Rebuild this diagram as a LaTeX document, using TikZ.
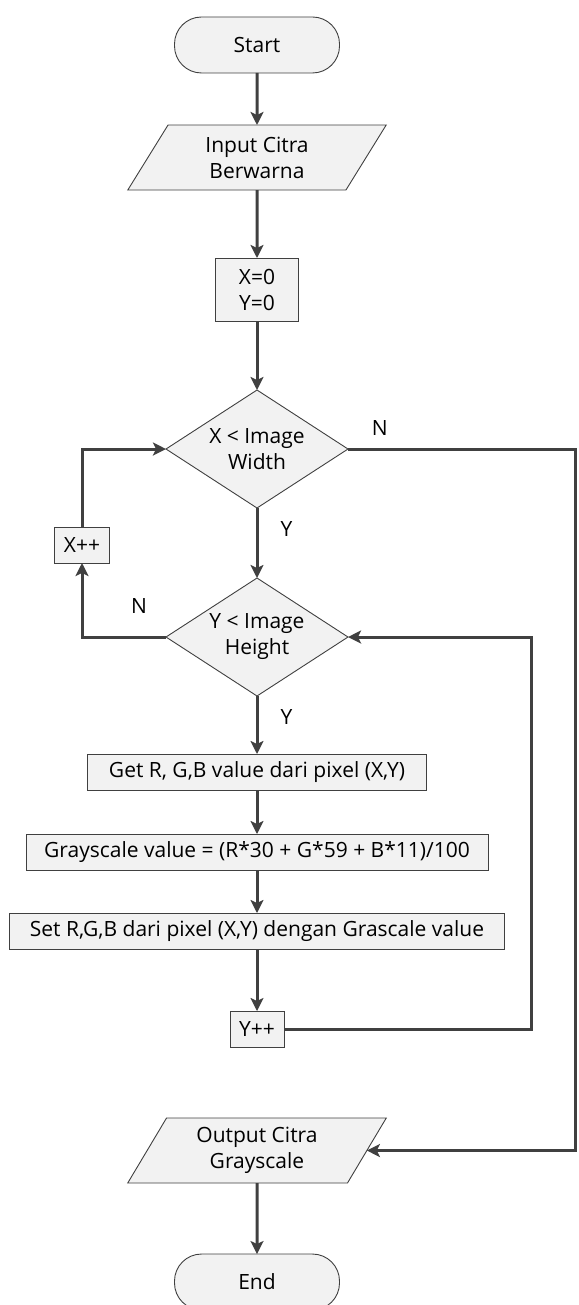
\documentclass[tikz,border=0pt]{standalone}
\usepackage{fontspec}
\setmainfont{Open Sans}
\usetikzlibrary{arrows.meta,positioning,shapes.geometric}

\definecolor{lineclr}{HTML}{404040}
\definecolor{boxfill}{HTML}{F2F2F2}

\begin{document}
\begin{tikzpicture}[
  x=1pt, y=1pt,
  font=\fontsize{21}{26}\selectfont,
  box/.style={draw=lineclr,fill=boxfill,line width=0.9pt,align=center,inner sep=2pt,outer sep=0pt},
  term/.style={box,rounded corners=27pt,minimum width=165pt,minimum height=56pt},
  io/.style={box,trapezium,trapezium left angle=62,trapezium right angle=118,trapezium stretches=true,minimum width=259pt,minimum height=65pt},
  proc/.style={box,rectangle,minimum height=36pt},
  dec/.style={box,diamond,aspect=1.54,minimum width=182pt,minimum height=118pt,inner sep=0pt},
  arr/.style={-{Stealth[length=13pt,width=13pt,inset=3pt]},line width=3pt,draw=lineclr},
  lbl/.style={inner sep=0pt}
]
\useasboundingbox (0,0) rectangle (578,-1305);
\node[term] (start) at (257,-45) {Start};
\node[io,below=52pt of start] (input) {Input Citra\\Berwarna};
\node[proc,minimum width=83pt,minimum height=63pt,below=68pt of input] (init) {X=0\\Y=0};
\node[dec,below=69pt of init] (xchk) {X < Image\\Width};
\node[dec,below=70pt of xchk] (ychk) {Y < Image\\Height};
\node[proc,minimum width=339pt,below=58pt of ychk] (getrgb) {Get R, G,B value dari pixel (X,Y)};
\node[proc,minimum width=462pt,below=44pt of getrgb] (gray) {Grayscale value = (R*30 + G*59 + B*11)/100};
\node[proc,minimum width=495pt,below=43pt of gray] (setrgb) {Set R,G,B dari pixel (X,Y) dengan Grascale value};
\node[proc,minimum width=54pt,below=62pt of setrgb] (yinc) {Y++};
\node[io,below=71pt of yinc] (output) {Output Citra\\Grayscale};
\node[term,below=71pt of output] (end) {End};
\node[proc,minimum width=55pt] (xinc) at (82,-545) {X++};
\coordinate (outer) at (575,0);
\coordinate (inner) at (531,0);
% main column
\draw[arr] (start) -- (input);
\draw[arr] (input) -- (init);
\draw[arr] (init) -- (xchk);
\draw[arr] (xchk) -- node[lbl,right=22pt,pos=0.3]{Y} (ychk);
\draw[arr] (ychk) -- node[lbl,right=22pt,pos=0.36]{Y} (getrgb);
\draw[arr] (getrgb) -- (gray);
\draw[arr] (gray) -- (setrgb);
\draw[arr] (setrgb) -- (yinc);
\draw[arr] (output) -- (end);
% loops
\draw[arr] (yinc.east) -- (yinc.east -| inner) |- (ychk.east);
\draw[arr] (ychk.west) -- node[lbl,above=22pt,pos=0.32]{N} (ychk.west -| xinc) -- (xinc.south);
\draw[arr] (xinc.north) |- (xchk.west);
\draw[arr] (xchk.east) -- node[lbl,above=12pt,pos=0.14]{N} (xchk.east -| outer) |- (output.east);
\end{tikzpicture}
\end{document}
